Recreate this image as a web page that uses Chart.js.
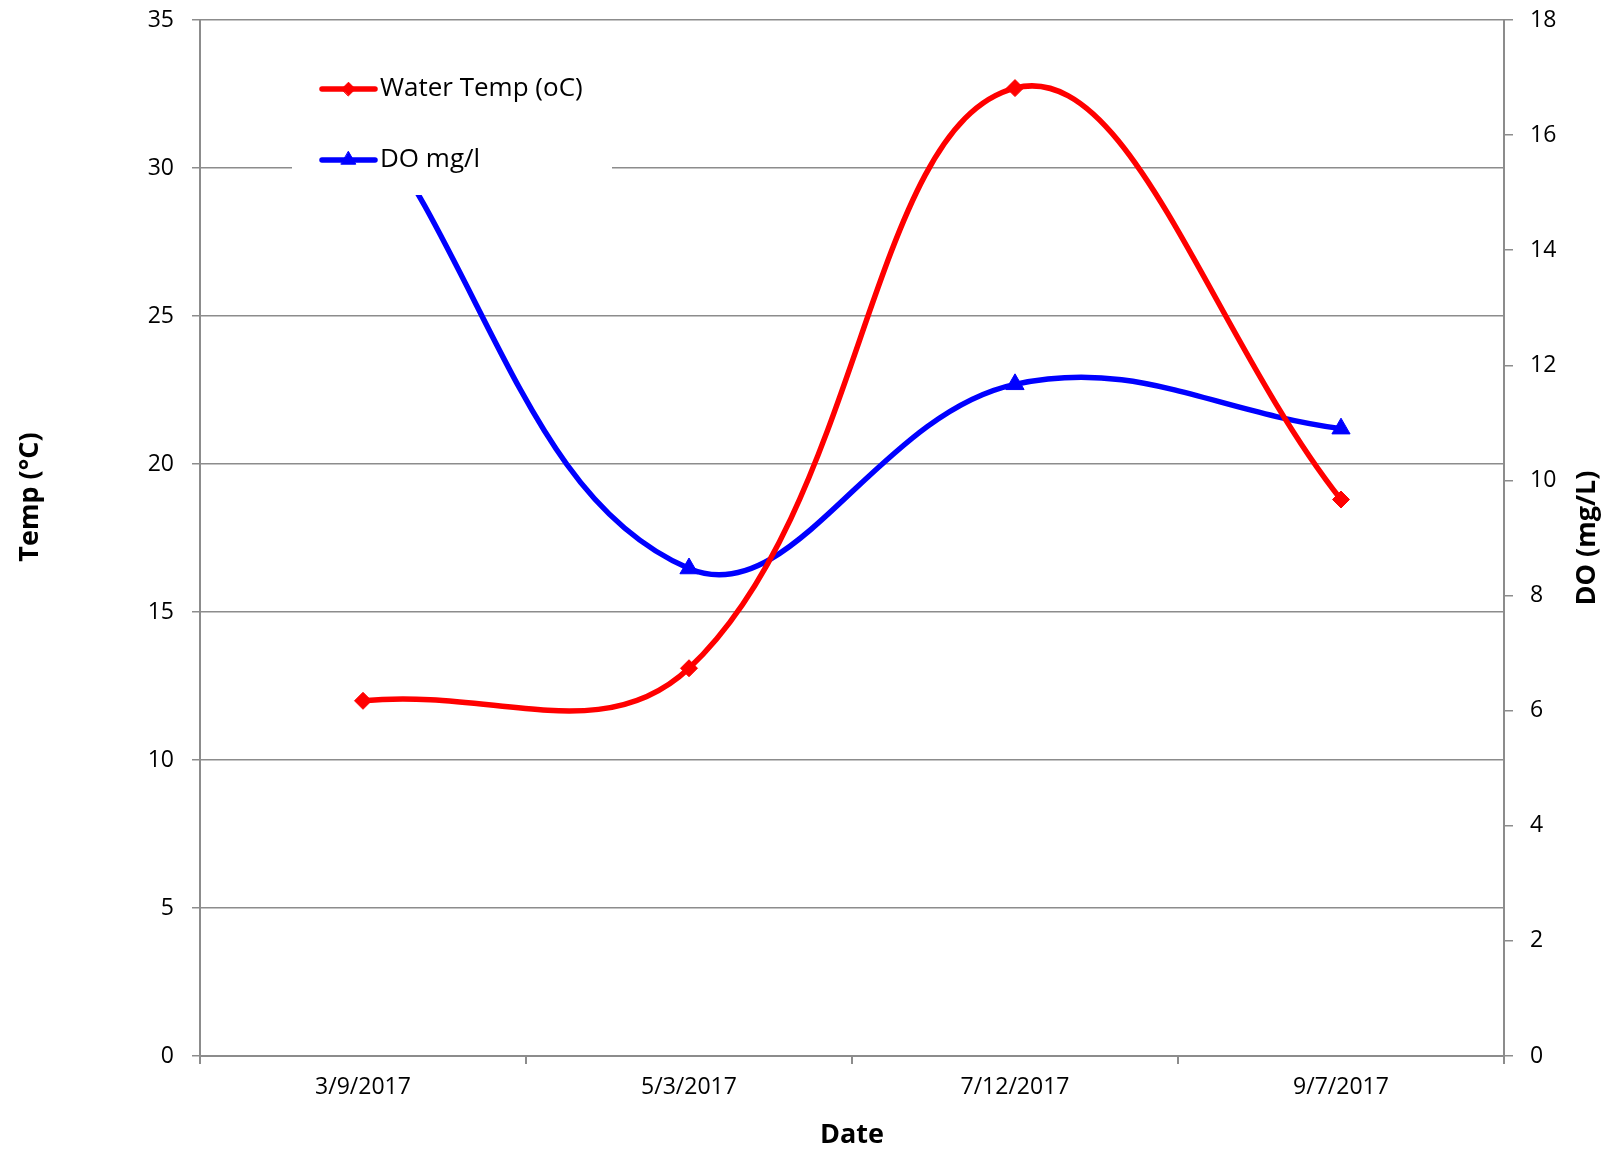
<!DOCTYPE html>
<html>
<head>
<meta charset="utf-8">
<title>Water Temp and DO</title>
<script src="https://cdn.jsdelivr.net/npm/chart.js@4.4.1/dist/chart.umd.min.js"></script>
<style>
  html, body { margin: 0; padding: 0; background: #ffffff; }
  #wrap { width: 1608px; height: 1152px; }
</style>
</head>
<body>
<div id="wrap"><canvas id="chart" width="1608" height="1152"></canvas></div>
<script>
// Sampling dates and measurements
const dates = ['3/9/2017', '5/3/2017', '7/12/2017', '9/7/2017'];
const waterTemp = [12.0, 13.1, 32.7, 18.8];          // °C
const dissolvedOxygen = [16.5, 8.47, 11.67, 10.9];   // mg/L

// Axis tick values
const tempTicks = [0, 5, 10, 15, 20, 25, 30, 35];
const doTicks = [0, 2, 4, 6, 8, 10, 12, 14, 16, 18];

const FONT = "'Open Sans', sans-serif";
const GRID = '#8c8c8c';

Chart.defaults.font.family = FONT;
Chart.defaults.color = '#000000';

// Legend drawn inside the plot area on a white panel
const insetLegend = {
  id: 'insetLegend',
  afterDatasetsDraw(chart) {
    const { ctx, chartArea: a } = chart;
    ctx.save();
    ctx.fillStyle = '#ffffff';
    ctx.fillRect(a.left + 92, a.top + 18, 320, 157);
    chart.data.datasets.forEach((ds, i) => {
      const cy = a.top + 69 + i * 71;
      const x1 = a.left + 122, x2 = a.left + 175;
      ctx.strokeStyle = ds.borderColor;
      ctx.lineWidth = ds.borderWidth;
      ctx.lineCap = 'round';
      ctx.beginPath();
      ctx.moveTo(x1, cy);
      ctx.lineTo(x2, cy);
      ctx.stroke();
      ctx.fillStyle = ds.backgroundColor;
      ctx.lineWidth = 1;
      Chart.helpers.drawPoint(ctx, {
        pointStyle: ds.pointStyle,
        radius: ds.pointRadius * 0.8,
        borderWidth: 1,
        rotation: 0
      }, (x1 + x2) / 2, cy);
      ctx.fillStyle = '#000000';
      ctx.font = '26px ' + FONT;
      ctx.textAlign = 'left';
      ctx.textBaseline = 'middle';
      ctx.fillText(ds.label, a.left + 180, cy);
    });
    ctx.restore();
  }
};

// Axis titles
const axisTitles = {
  id: 'axisTitles',
  afterDraw(chart) {
    const { ctx, chartArea: a } = chart;
    const midY = (a.top + a.bottom) / 2;
    ctx.save();
    ctx.fillStyle = '#000000';
    ctx.font = 'bold 27px ' + FONT;
    ctx.textAlign = 'center';
    ctx.textBaseline = 'middle';
    ctx.fillText('Date', (a.left + a.right) / 2, a.bottom + 79);

    ctx.save();
    ctx.translate(a.left - 170, midY - 41);
    ctx.rotate(-Math.PI / 2);
    ctx.fillText('Temp (°C)', 0, 0);
    ctx.restore();

    ctx.save();
    ctx.translate(a.right + 83, midY);
    ctx.rotate(-Math.PI / 2);
    ctx.fillText('DO (mg/L)', 0, 0);
    ctx.restore();
    ctx.restore();
  }
};

// Keep the vertical axes from reserving extra room for their end labels
function fixVertical(width) {
  return function (s) {
    s.width = width;
    s.paddingTop = 0;
    s.paddingBottom = 0;
  };
}

new Chart(document.getElementById('chart'), {
  type: 'line',
  data: {
    labels: dates,
    datasets: [
      {
        label: 'Water Temp (oC)',
        data: waterTemp,
        yAxisID: 'yTemp',
        borderColor: '#ff0000',
        backgroundColor: '#ff0000',
        borderWidth: 5.5,
        pointStyle: 'rectRot',
        pointRadius: 8.5,
        pointBorderWidth: 1,
        tension: 0.4
      },
      {
        label: 'DO mg/l',
        data: dissolvedOxygen,
        yAxisID: 'yDO',
        borderColor: '#0000ff',
        backgroundColor: '#0000ff',
        borderWidth: 5.5,
        pointStyle: 'triangle',
        pointRadius: 10.5,
        pointBorderWidth: 1,
        tension: 0.4
      }
    ]
  },
  options: {
    responsive: false,
    animation: false,
    layout: { padding: { top: 20, left: 0, right: 0, bottom: 0 } },
    plugins: {
      legend: { display: false },
      tooltip: { enabled: false }
    },
    scales: {
      x: {
        offset: true,
        grid: { offset: true, drawOnChartArea: false, tickLength: 8, color: GRID, lineWidth: 2 },
        border: { color: GRID, width: 2 },
        ticks: { font: { size: 23 }, padding: 10, maxRotation: 0 },
        afterFit(s) { s.height = 96; }
      },
      yTemp: {
        position: 'left',
        min: 0,
        max: 35,
        afterBuildTicks(s) { s.ticks = tempTicks.map(v => ({ value: v })); },
        grid: { color: GRID, lineWidth: 1.5, tickLength: 8 },
        border: { color: GRID, width: 2 },
        ticks: { font: { size: 23 }, padding: 18 },
        afterFit: fixVertical(200)
      },
      yDO: {
        position: 'right',
        min: 0,
        max: 18,
        afterBuildTicks(s) { s.ticks = doTicks.map(v => ({ value: v })); },
        grid: { drawOnChartArea: false, color: GRID, lineWidth: 1.5, tickLength: 9 },
        border: { color: GRID, width: 2 },
        ticks: { font: { size: 23 }, padding: 17 },
        afterFit: fixVertical(104)
      }
    }
  },
  plugins: [insetLegend, axisTitles]
});
</script>
</body>
</html>
